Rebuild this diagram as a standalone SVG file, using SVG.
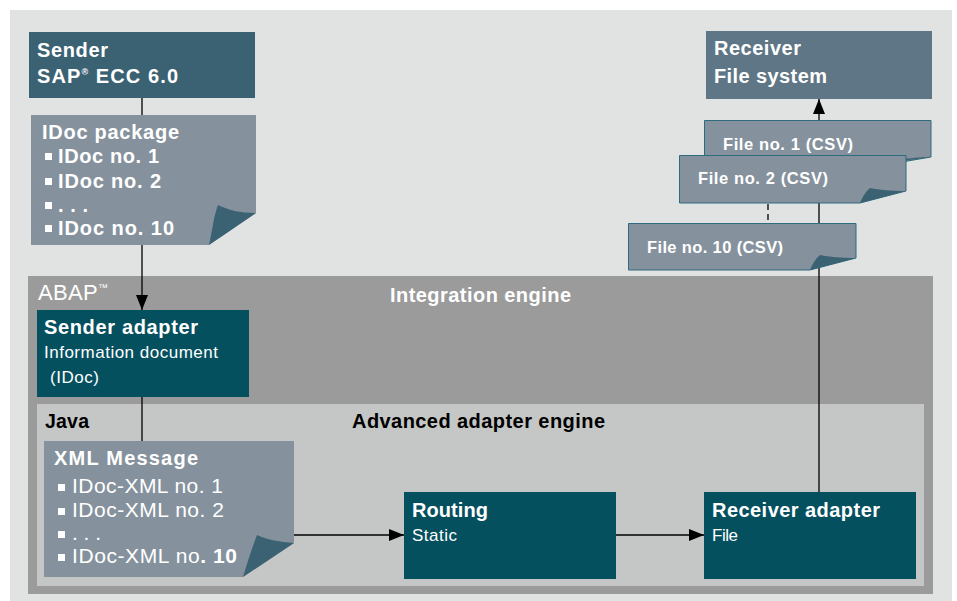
<svg xmlns="http://www.w3.org/2000/svg" width="957" height="601" viewBox="0 0 957 601">
<defs>
<marker id="arr" viewBox="0 0 15 12" refX="15" refY="6" markerWidth="15" markerHeight="12" markerUnits="userSpaceOnUse" orient="auto">
<path d="M0,0 L15,6 L0,12 z" fill="#000"/>
</marker>
<style>
text{font-family:"Liberation Sans",Arial,sans-serif;fill:#fff}
.m{font-size:20px;font-weight:bold}
.h{font-size:20px;font-weight:bold}
.s{font-size:17px}
.i{font-size:21px}
.f{font-size:16.5px;font-weight:bold}
.dk{fill:#000}
.paper{fill:#85929d}
.fdoc{fill:#85929d;stroke:#2f6b7e;stroke-width:1}
.fold{fill:#3b6273}
.teal{fill:#05505f}
.ln{stroke:#000;stroke-width:1.3;fill:none}
</style>
</defs>
<rect x="0" y="0" width="957" height="601" fill="#fff"/>
<rect x="10" y="10" width="942" height="591" fill="#e1e3e3"/>

<g id="integration-engine">
<rect x="28" y="276" width="905" height="318" fill="#9b9b9b"/>
<text x="38" y="300" style="font-size:22px" textLength="70" lengthAdjust="spacing">ABAP<tspan font-size="10" dy="-9">™</tspan></text>
<text x="390" y="302" style="font-size:20px;font-weight:bold" textLength="181" lengthAdjust="spacing">Integration engine</text>
</g>
<g id="java">
<rect x="37" y="404" width="887" height="182" fill="#c5c7c6"/>
<text x="45" y="428" class="dk" style="font-size:19.5px;font-weight:bold" textLength="44" lengthAdjust="spacing">Java</text>
<text x="352" y="428" class="dk" style="font-size:20px;font-weight:bold" textLength="253" lengthAdjust="spacing">Advanced adapter engine</text>
</g>

<g id="connectors">
<line class="ln" x1="142" y1="98" x2="142" y2="115"/>
<line class="ln" x1="142" y1="245" x2="142" y2="310" marker-end="url(#arr)"/>
<line class="ln" x1="142" y1="397" x2="142" y2="441"/>
<line class="ln" x1="294" y1="535" x2="404" y2="535" marker-end="url(#arr)"/>
<line class="ln" x1="616" y1="535" x2="704" y2="535" marker-end="url(#arr)"/>
<line class="ln" x1="819" y1="492" x2="819" y2="99" marker-end="url(#arr)"/>
<line class="ln" x1="768" y1="204" x2="768" y2="223" stroke-dasharray="6,4" stroke-width="2.5"/>
</g>

<g id="sender">
<rect x="29" y="32" width="226" height="66" fill="#3b6273"/>
<text x="37" y="57" class="m" textLength="71" lengthAdjust="spacing">Sender</text>
<text x="37" y="83" class="m" textLength="141" lengthAdjust="spacing">SAP<tspan font-size="9" dy="-8">®</tspan><tspan dy="8"> ECC 6.0</tspan></text>
</g>

<g id="idoc-package">
<path class="paper" d="M31,115 H256 V213 L209,245 H31 z"/>
<path class="fold" d="M209,245 L256,213 C240,213 228,210 218,205 C214,215 212,232 209,245 z"/>
<text x="42" y="139" class="m" textLength="137" lengthAdjust="spacing">IDoc package</text>
<rect x="45" y="153" width="7" height="7" fill="#fff"/><text x="58" y="163" class="m" textLength="101" lengthAdjust="spacing">IDoc no. 1</text>
<rect x="45" y="178" width="7" height="7" fill="#fff"/><text x="58" y="188" class="m" textLength="103" lengthAdjust="spacing">IDoc no. 2</text>
<rect x="45" y="202" width="7" height="7" fill="#fff"/><text x="58" y="212" class="m" textLength="30" lengthAdjust="spacing">. . .</text>
<rect x="45" y="225" width="7" height="7" fill="#fff"/><text x="58" y="235" class="m" textLength="116" lengthAdjust="spacing">IDoc no. 10</text>
</g>

<g id="receiver">
<rect x="706" y="31" width="226" height="68" fill="#5e7685"/>
<text x="714" y="55" class="m" textLength="87" lengthAdjust="spacing">Receiver</text>
<text x="714" y="83" class="m" textLength="113" lengthAdjust="spacing">File system</text>
</g>

<g id="file-1">
<path class="fdoc" d="M704.5,120.5 H931 V157 L890,164 H704.5 z"/>
<path class="fold" d="M880,164 L931,157 C915,157 905,160 895,158 C890,160 885,162 880,164 z"/>
<text x="723" y="150" class="f" textLength="130" lengthAdjust="spacing">File no. 1 (CSV)</text>
</g>
<g id="file-2">
<path class="fdoc" d="M679.5,155.5 H906 V191 L860,203 H679.5 z"/>
<path class="fold" d="M860,203 L906,191 C890,191 880,190 870,188 C865,192 862,198 860,203 z"/>
<text x="698" y="184" class="f" textLength="130" lengthAdjust="spacing">File no. 2 (CSV)</text>
</g>
<g id="file-10">
<path class="fdoc" d="M628.5,223.5 H856 V258 L810,270 H628.5 z"/>
<path class="fold" d="M810,270 L856,258 C840,258 830,257 820,255 C815,259 812,265 810,270 z"/>
<text x="647" y="253" class="f" textLength="136" lengthAdjust="spacing">File no. 10 (CSV)</text>
</g>

<g id="sender-adapter">
<rect class="teal" x="37" y="310" width="212" height="87"/>
<text x="44" y="334" class="h" textLength="154" lengthAdjust="spacing">Sender adapter</text>
<text x="44" y="358" class="s" textLength="174" lengthAdjust="spacing">Information document</text>
<text x="50" y="383" class="s" textLength="49" lengthAdjust="spacing">(IDoc)</text>
</g>

<g id="xml-message">
<path class="paper" d="M44,441 H294 V543 L243,577 H44 z"/>
<path class="fold" d="M243,577 L294,543 C280,542 268,540 257,535 C252,548 247,563 243,577 z"/>
<text x="54" y="465" class="h" textLength="144" lengthAdjust="spacing">XML Message</text>
<rect x="58" y="484" width="7" height="7" fill="#fff"/><text x="72" y="493" class="i" textLength="151" lengthAdjust="spacing">IDoc-XML no. 1</text>
<rect x="58" y="508" width="7" height="7" fill="#fff"/><text x="72" y="517" class="i" textLength="152" lengthAdjust="spacing">IDoc-XML no. 2</text>
<rect x="58" y="531" width="7" height="7" fill="#fff"/><text x="72" y="540" class="i" textLength="29" lengthAdjust="spacing">. . .</text>
<rect x="58" y="554" width="7" height="7" fill="#fff"/><text x="72" y="563" class="i" textLength="165" lengthAdjust="spacing">IDoc-XML no<tspan font-weight="bold">. 10</tspan></text>
</g>

<g id="routing">
<rect class="teal" x="404" y="492" width="212" height="87"/>
<text x="412" y="517" class="h" textLength="76" lengthAdjust="spacing">Routing</text>
<text x="412" y="541" class="s" textLength="45" lengthAdjust="spacing">Static</text>
</g>

<g id="receiver-adapter">
<rect class="teal" x="704" y="492" width="212" height="87"/>
<text x="712" y="517" class="h" textLength="168" lengthAdjust="spacing">Receiver adapter</text>
<text x="712" y="541" class="s" textLength="26" lengthAdjust="spacing">File</text>
</g>
</svg>
